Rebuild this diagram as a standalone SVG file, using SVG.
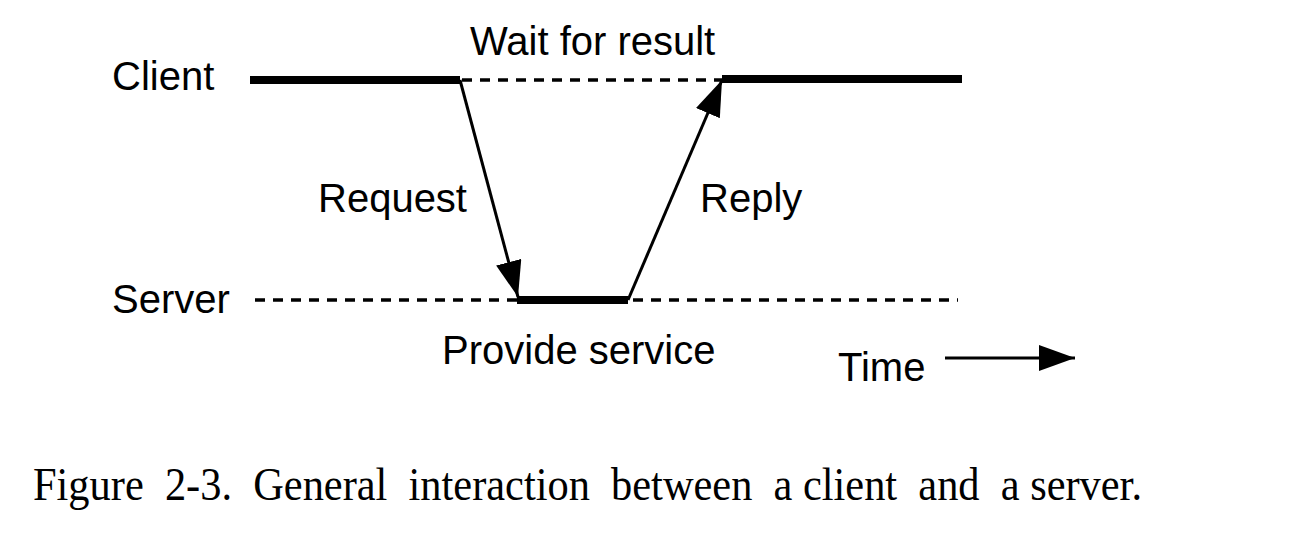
<svg xmlns="http://www.w3.org/2000/svg" width="1300" height="550" viewBox="0 0 1300 550">
<style>
.lbl{font-family:"Liberation Sans",Arial,sans-serif;font-size:40px;fill:#000}
.cap{font-family:"Liberation Serif","Times New Roman",serif;font-size:46px;fill:#000}
.thick{stroke:#000;stroke-width:8;fill:none}
.dash{stroke:#000;stroke-width:3.5;stroke-dasharray:10,8;fill:none}
.arr{stroke:#000;stroke-width:3;fill:none}
</style>
<defs>
<marker id="ahL" viewBox="0 0 10 10" refX="10" refY="5" markerWidth="36" markerHeight="26" markerUnits="userSpaceOnUse" orient="auto" preserveAspectRatio="none">
<path d="M0,0 L10,5 L0,10 Z" fill="#000"/>
</marker>
</defs>
<rect width="1300" height="550" fill="#fff"/>
<g id="client">
<text class="lbl" x="112" y="90">Client</text>
<line class="thick" x1="250" y1="80" x2="460" y2="80"/>
<line class="dash" x1="462" y1="80" x2="722" y2="80"/>
<line class="thick" x1="722" y1="79" x2="962" y2="79"/>
</g>
<g id="server">
<text class="lbl" x="112" y="313">Server</text>
<line class="dash" x1="255" y1="300" x2="958" y2="300"/>
<line class="thick" x1="517" y1="300" x2="628" y2="300"/>
</g>
<g id="labels">
<text class="lbl" x="470" y="55">Wait for result</text>
<text class="lbl" x="318" y="212">Request</text>
<text class="lbl" x="700" y="212">Reply</text>
<text class="lbl" x="442" y="364">Provide service</text>
<text class="lbl" x="838" y="381">Time</text>
</g>
<g id="connectors">
<line class="arr" x1="460" y1="80" x2="518" y2="297" marker-end="url(#ahL)"/>
<line class="arr" x1="628" y1="300" x2="722" y2="80" marker-end="url(#ahL)"/>
<line class="arr" x1="945" y1="358" x2="1075" y2="358" marker-end="url(#ahL)"/>
</g>
<text class="cap" x="33" y="500" textLength="1109" lengthAdjust="spacingAndGlyphs" xml:space="preserve">Figure  2-3.  General  interaction  between  a client  and  a server.</text>
</svg>
